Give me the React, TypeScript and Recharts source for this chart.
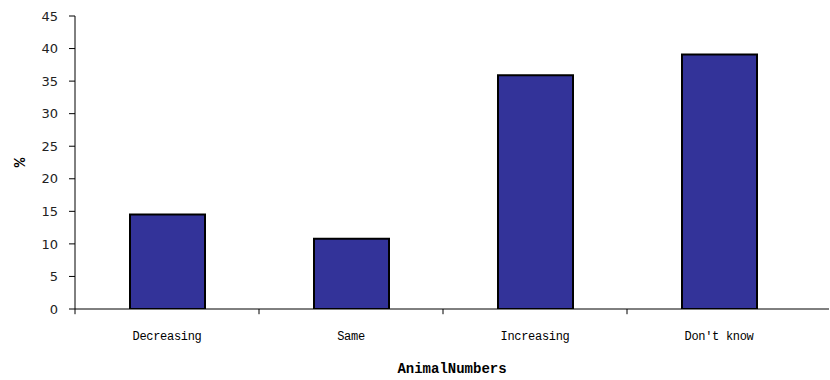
import React from 'react';
import { BarChart, Bar, XAxis, YAxis, ReferenceLine } from 'recharts';

const categories = ['Decreasing', 'Same', 'Increasing', "Don't know"];
const percentValues = [14.5, 10.8, 35.9, 39.1];
const yTicks = [0, 5, 10, 15, 20, 25, 30, 35, 40, 45];
const boundaryTicks = [0, 1, 2, 3];
const tickDepth = 0.8;

const data = categories.map((c, i) => ({ name: c, value: percentValues[i], pos: i + 0.5 }));

export default function App() {
  return (
    <div style={{ position: 'absolute', left: 0, top: 0, width: 830, height: 380, background: '#fff' }}>
      <BarChart
        width={830}
        height={380}
        data={data}
        margin={{ top: 16, right: 1, bottom: 0, left: 10 }}
        barCategoryGap="0%"
      >
        <XAxis
          xAxisId="cat"
          dataKey="name"
          type="category"
          axisLine={{ stroke: '#000' }}
          tickLine={false}
          tickSize={5}
          tickMargin={17}
          height={71}
          padding={{ left: 0, right: 18 }}
          interval={0}
          tick={{ fontFamily: 'Liberation Mono', fontSize: 12, fill: '#000', letterSpacing: -0.3 }}
          label={{
            value: 'AnimalNumbers',
            position: 'insideBottom',
            offset: 7,
            style: { fontFamily: 'Liberation Mono', fontSize: 14, fontWeight: 'bold', fill: '#000' },
          }}
        />
        <XAxis
          xAxisId="grid"
          type="number"
          dataKey="pos"
          domain={[0, 4]}
          allowDataOverflow
          hide
          padding={{ left: 0, right: 18 }}
        />
        <YAxis
          type="number"
          domain={[0, 45]}
          ticks={yTicks}
          interval={0}
          width={65}
          tickSize={6}
          tickMargin={11}
          allowDataOverflow
          axisLine={{ stroke: '#000' }}
          tickLine={{ stroke: '#000' }}
          tick={{ fontFamily: 'DejaVu Sans', fontSize: 13, fill: '#222' }}
          label={{
            value: '%',
            angle: -90,
            position: 'insideLeft',
            offset: 9,
            style: { fontFamily: 'Liberation Mono', fontSize: 16, fontWeight: 'bold', fill: '#000', textAnchor: 'middle' },
          }}
        />
        <Bar
          xAxisId="cat"
          dataKey="value"
          fill="#333399"
          stroke="#000"
          strokeWidth={2}
          barSize={75}
          isAnimationActive={false}
        />
        {boundaryTicks.map((b) => (
          <ReferenceLine
            key={b}
            xAxisId="grid"
            ifOverflow="visible"
            segment={[{ x: b, y: 0 }, { x: b, y: -tickDepth }]}
            stroke="#000"
            strokeWidth={1}
          />
        ))}
      </BarChart>
    </div>
  );
}
